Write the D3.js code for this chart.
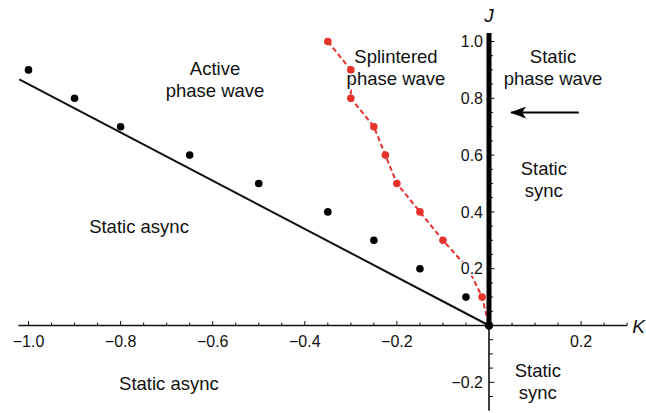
<!DOCTYPE html>
<html lang="en">
<head>
<meta charset="UTF-8">
<title>Phase diagram in the (K, J) plane</title>
<script src="https://cdnjs.cloudflare.com/ajax/libs/d3/7.8.5/d3.min.js"></script>
<style>
    body { margin: 0; background: #fff; }
    svg { display: block; font-family: 'Liberation Sans', Arial, Helvetica, sans-serif; }
    .tick-label { font-size: 16px; fill: #111; }
    .region { font-size: 18.5px; fill: #111; text-anchor: middle; stroke: #fff; stroke-width: 3px; paint-order: stroke; }
    .axis-name { font-size: 19px; font-style: italic; fill: #111; }
</style>
</head>
<body>
<svg id="chart" width="646" height="413"></svg>
<script>
    // black dots: active phase wave / static async boundary (simulation)
    const asyncK = [-1.0, -0.9, -0.8, -0.65, -0.5, -0.35, -0.25, -0.15, -0.05];
    const asyncJ = [0.9, 0.8, 0.7, 0.6, 0.5, 0.4, 0.3, 0.2, 0.1];

    // theoretical boundary line J = -0.85 K
    const lineK = [-1.02, 0];
    const lineJ = [0.867, 0];

    // red dashed: splintered phase wave boundary
    const splinterK = [-0.35, -0.30, -0.30, -0.25, -0.225, -0.20, -0.15, -0.10, -0.045, -0.015, 0];
    const splinterJ = [1.0, 0.9, 0.8, 0.7, 0.6, 0.5, 0.4, 0.3, 0.2, 0.1, 0];

    // arrow pointing toward the J axis
    const arrowK = [0.195, 0.048];
    const arrowJ = [0.75, 0.75];

    const xTicks = [-1.0, -0.8, -0.6, -0.4, -0.2, 0.2];
    const yTicks = [1.0, 0.8, 0.6, 0.4, 0.2, -0.2];

    const regions = [
        { lines: ['Active', 'phase wave'], k: -0.595, j: 0.882 },
        { lines: ['Splintered', 'phase wave'], k: -0.202, j: 0.924 },
        { lines: ['Static', 'phase wave'], k: 0.139, j: 0.924 },
        { lines: ['Static', 'sync'], k: 0.119, j: 0.53 },
        { lines: ['Static async'], k: -0.76, j: 0.326 },
        { lines: ['Static async'], k: -0.695, j: -0.227 },
        { lines: ['Static', 'sync'], k: 0.106, j: -0.181 }
    ];

    const svg = d3.select('#chart');

    const x = d3.scaleLinear().domain([-1, 0]).range([28.5, 489]);
    const y = d3.scaleLinear().domain([0, 1]).range([325.5, 41.5]);

    // x axis line and ticks (pointing up)
    svg.append('line')
        .attr('x1', x(-1.022)).attr('x2', x(0.30))
        .attr('y1', y(0)).attr('y2', y(0))
        .attr('stroke', '#111').attr('stroke-width', 1.6);

    const minorX = d3.range(-20, 7).map(d => d * 0.05).filter(d => Math.abs(d) > 1e-9);
    svg.append('g').selectAll('line')
        .data(minorX)
        .join('line')
        .attr('x1', d => x(d)).attr('x2', d => x(d))
        .attr('y1', y(0))
        .attr('y2', d => y(0) - (Math.abs(Math.round(d * 20)) % 4 === 0 ? 4.5 : 3))
        .attr('stroke', '#111').attr('stroke-width', 1);

    svg.append('g').selectAll('text')
        .data(xTicks)
        .join('text')
        .attr('class', 'tick-label')
        .attr('x', d => x(d))
        .attr('y', y(0) + 21)
        .attr('text-anchor', 'middle')
        .text(d => d3.format('.1f')(d).replace('-', '\u2013'));

    // y axis: thick above zero, thin below
    svg.append('line')
        .attr('x1', x(0)).attr('x2', x(0))
        .attr('y1', y(0)).attr('y2', y(-0.30))
        .attr('stroke', '#111').attr('stroke-width', 1.6);

    const minorY = d3.range(-5, 21).map(d => d * 0.05).filter(d => Math.abs(d) > 1e-9);
    svg.append('g').selectAll('line')
        .data(minorY)
        .join('line')
        .attr('x1', x(0))
        .attr('x2', d => x(0) + (Math.abs(Math.round(d * 20)) % 4 === 0 ? 5.5 : 4))
        .attr('y1', d => y(d)).attr('y2', d => y(d))
        .attr('stroke', '#111').attr('stroke-width', 1);

    // theoretical boundary
    const boundary = lineK.map((k, i) => [k, lineJ[i]]);
    svg.append('path')
        .datum(boundary)
        .attr('d', d3.line().x(d => x(d[0])).y(d => y(d[1])))
        .attr('fill', 'none')
        .attr('stroke', '#111')
        .attr('stroke-width', 2);

    // red dashed splinter boundary
    const splinter = splinterK.map((k, i) => [k, splinterJ[i]]);
    svg.append('path')
        .datum(splinter)
        .attr('d', d3.line().x(d => x(d[0])).y(d => y(d[1])))
        .attr('fill', 'none')
        .attr('stroke', '#e5322b')
        .attr('stroke-width', 2)
        .attr('stroke-dasharray', '5,3');

    svg.append('g').selectAll('circle')
        .data(splinter)
        .join('circle')
        .attr('cx', d => x(d[0])).attr('cy', d => y(d[1]))
        .attr('r', 3.8)
        .attr('fill', '#e5322b');

    // thick J axis on top of the red line
    svg.append('line')
        .attr('x1', x(0)).attr('x2', x(0))
        .attr('y1', y(0)).attr('y2', y(1.03))
        .attr('stroke', '#000').attr('stroke-width', 5);

    // black simulation dots
    svg.append('g').selectAll('circle')
        .data(asyncK.map((k, i) => [k, asyncJ[i]]))
        .join('circle')
        .attr('cx', d => x(d[0])).attr('cy', d => y(d[1]))
        .attr('r', 3.8)
        .attr('fill', '#000');

    // origin dot
    svg.append('circle')
        .attr('cx', x(0)).attr('cy', y(0))
        .attr('r', 4.2)
        .attr('fill', '#000');

    // y tick labels with white backing (they cover the red line)
    const yLab = svg.append('g').selectAll('g')
        .data(yTicks)
        .join('g')
        .attr('transform', d => `translate(${x(0) - 6},${y(d)})`);
    yLab.append('rect')
        .attr('x', d => d < 0 ? -36 : -26).attr('y', -7)
        .attr('width', d => d < 0 ? 35 : 25).attr('height', 14)
        .attr('fill', '#fff');
    yLab.append('text')
        .attr('class', 'tick-label')
        .attr('text-anchor', 'end')
        .attr('dy', '0.35em')
        .text(d => d3.format('.1f')(d).replace('-', '\u2013'));

    // arrow
    svg.append('defs').append('marker')
        .attr('id', 'head')
        .attr('viewBox', '0 0 16 12')
        .attr('refX', 15).attr('refY', 6)
        .attr('markerWidth', 16).attr('markerHeight', 12)
        .attr('markerUnits', 'userSpaceOnUse')
        .attr('orient', 'auto')
        .append('path')
        .attr('d', 'M0,0 L16,6 L0,12 L4,6 Z')
        .attr('fill', '#000');

    svg.append('line')
        .attr('x1', x(arrowK[0])).attr('y1', y(arrowJ[0]))
        .attr('x2', x(arrowK[1])).attr('y2', y(arrowJ[1]))
        .attr('stroke', '#000').attr('stroke-width', 2)
        .attr('marker-end', 'url(#head)');

    // region labels
    regions.forEach(r => {
        const t = svg.append('text')
            .attr('class', 'region')
            .attr('x', x(r.k))
            .attr('y', y(r.j));
        r.lines.forEach((s, i) => {
            t.append('tspan')
                .attr('x', x(r.k))
                .attr('dy', i === 0 ? 0 : 22)
                .text(s);
        });
    });

    // axis names
    svg.append('text')
        .attr('class', 'axis-name')
        .attr('x', x(0)).attr('y', 22)
        .attr('text-anchor', 'middle')
        .text('J');
    svg.append('text')
        .attr('class', 'axis-name')
        .attr('x', x(0.30) + 5).attr('y', y(0) + 7)
        .text('K');
</script>
</body>
</html>
